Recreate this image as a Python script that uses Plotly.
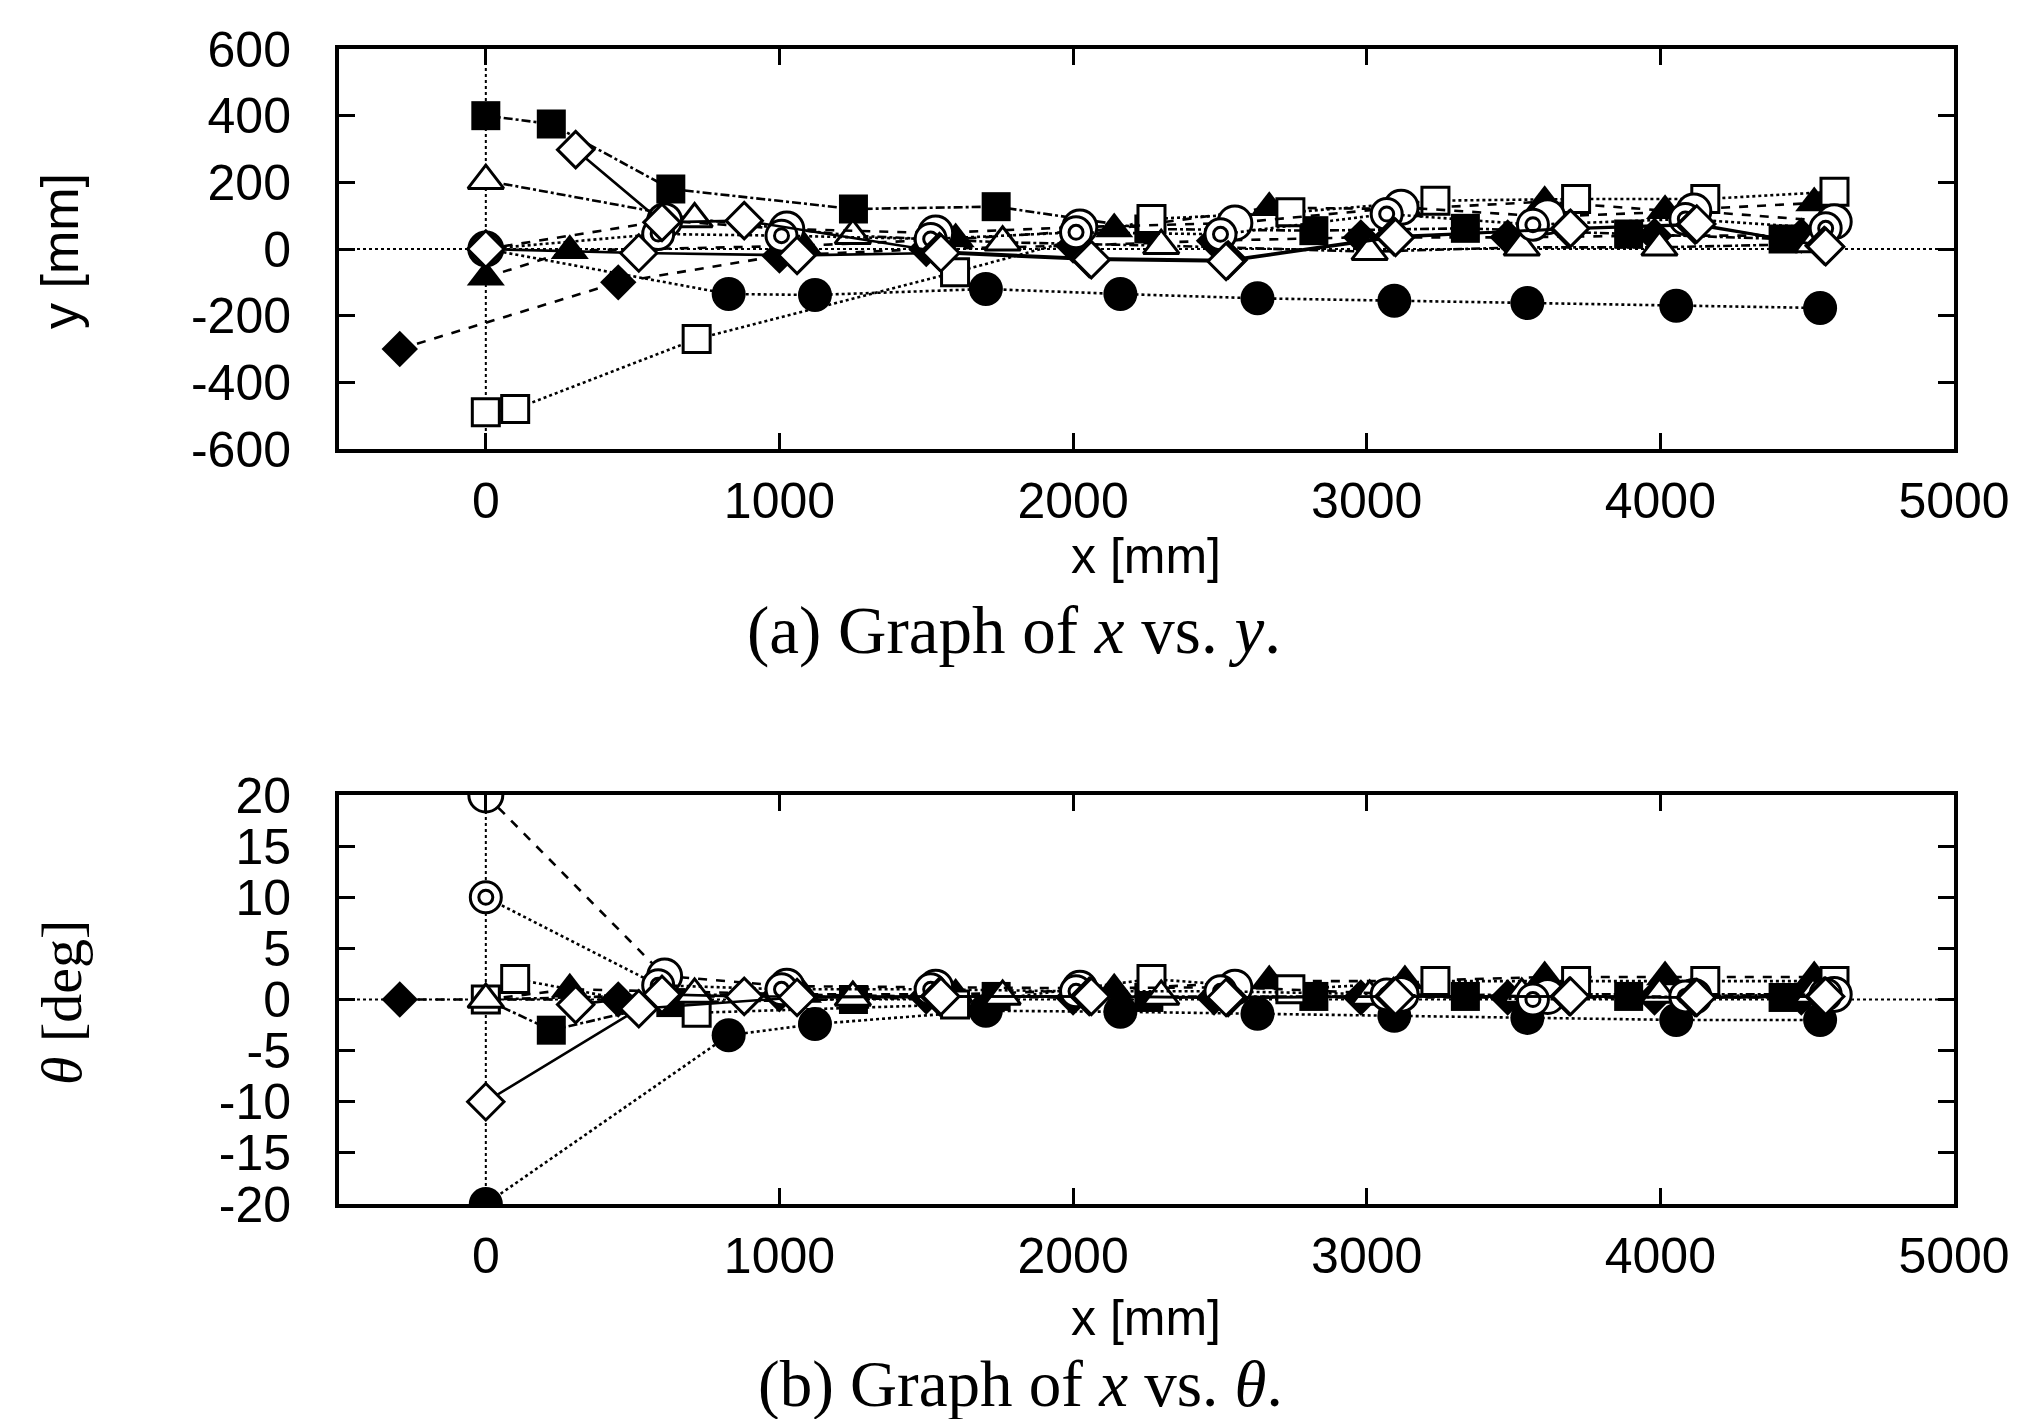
import plotly.graph_objects as go

# ---------------- data ----------------
x_tick_vals = [0, 1000, 2000, 3000, 4000, 5000]
x_tick_text = ["0", "1000", "2000", "3000", "4000", "5000"]
y_tick_vals = [-600, -400, -200, 0, 200, 400, 600]
y_tick_text = ["-600", "-400", "-200", "0", "200", "400", "600"]
t_tick_vals = [-20, -15, -10, -5, 0, 5, 10, 15, 20]
t_tick_text = ["-20", "-15", "-10", "-5", "0", "5", "10", "15", "20"]

# filled diamond
fdia_x = [-293, 451, 1000, 1500, 2000, 2480, 2980, 3480, 3980, 4480]
fdia_y = [-300, -100, -20, 0, 10, 25, 35, 35, 40, 40]
fdia_t = [0, 0, 0.5, 0.3, 0.2, 0.2, 0.2, 0.2, 0.2, 0.2]

# filled triangle
ftri_x = [0, 286, 1080, 1600, 2140, 2668, 3130, 3606, 4016, 4524]
ftri_y = [-85, -5, 10, 30, 60, 124, 120, 142, 115, 138]
ftri_t = [0, 1.0, 0.5, 0.5, 1.0, 1.8, 1.8, 2.2, 2.2, 2.2]

# filled circle
fcirc_x = [0, 827, 1121, 1703, 2161, 2628, 3094, 3547, 4054, 4544]
fcirc_y = [0, -135, -138, -120, -135, -148, -155, -162, -170, -177]
fcirc_t = [-20, -3.5, -2.4, -1.1, -1.2, -1.4, -1.6, -1.8, -2.0, -2.0]

# filled square
fsq_x = [0, 223, 630, 1252, 1738, 2258, 2820, 3336, 3892, 4418]
fsq_y = [400, 375, 180, 120, 127, 60, 55, 62, 45, 30]
fsq_t = [0, -3.0, -0.3, 0, 0.3, 0.2, 0.3, 0.3, 0.3, 0.2]

# open square
osq_x = [0, 100, 718, 1598, 2267, 2740, 3234, 3713, 4153, 4593]
osq_y = [-490, -480, -270, -70, 90, 110, 145, 150, 150, 172]
osq_t = [0, 2.0, -1.3, -0.5, 2.0, 1.0, 1.8, 1.8, 1.8, 1.8]

# open triangle
otri_x = [0, 711, 1250, 1760, 2300, 3010, 3528, 3997, 4520]
otri_y = [205, 90, 40, 20, 10, -8, 5, 5, 15]
otri_t = [0, 0.5, 0.2, 0.3, 0.3, 0.3, 0.5, 0.5, 0.5]

# open circle
ocirc_x = [0, 609, 1025, 1532, 2023, 2551, 3117, 3616, 4114, 4592]
ocirc_y = [0, 85, 60, 48, 66, 78, 125, 97, 114, 82]
ocirc_t = [20, 2.3, 1.3, 1.2, 1.1, 1.2, 0.5, 0.3, 0.3, 0.5]

# double circle
dcirc_x = [0, 587, 1007, 1515, 2010, 2502, 3068, 3566, 4085, 4563]
dcirc_y = [0, 45, 40, 30, 50, 44, 105, 73, 90, 62]
dcirc_t = [10, 1.4, 1.0, 1.0, 0.8, 0.8, 0.5, 0.0, 0.3, 0.5]

# open diamond (run B)
odiaB_x = [306, 600, 880, 1545, 2055, 2528, 3092, 3690, 4118, 4558]
odiaB_y = [298, 80, 85, -8, -28, -33, 38, 60, 72, 10]
odiaB_t = [-0.5, 0.5, 0.3, 0.3, 0.3, 0.2, 0.3, 0.3, 0.2, 0.3]

# open diamond (run A)
odiaA_x = [0, 521, 1060, 1550, 2062, 2521, 3098, 3694, 4124, 4563]
odiaA_y = [0, -12, -19, -12, -32, -37, 35, 62, 75, 7]
odiaA_t = [-10, -0.9, 0.2, 0.3, 0.3, 0.2, 0.3, 0.3, 0.2, 0.3]

# ---------------- styling ----------------
W, H = 2017, 1419
L, R, T, B = 331, 71, 41, 223
PH = H - T - B
top_dom = [(H - B - 441) / PH, 1.0]
bot_dom = [0.0, (H - B - 787) / PH]


def py(Ypx):
    return (H - B - Ypx) / PH


def px(Xpx):
    return (Xpx - L) / (W - L - R)


SANS = "Liberation Sans, Arial, Helvetica, sans-serif"
SERIF = "Liberation Serif, Times New Roman, serif"
BLACK = "black"

series = [
    # x, y, theta, symbol, fill, size, dash, inner ring
    (fdia_x, fdia_y, fdia_t, "diamond", BLACK, 28, "dash", False),
    (ftri_x, ftri_y, ftri_t, "triangle-up", BLACK, 33, "dash", False),
    (fcirc_x, fcirc_y, fcirc_t, "circle", BLACK, 34, "dot", False),
    (fsq_x, fsq_y, fsq_t, "square", BLACK, 29, "dashdot", False),
    (osq_x, osq_y, osq_t, "square", "white", 27, "dot", False),
    (otri_x, otri_y, otri_t, "triangle-up", "white", 31, "dashdot", False),
    (ocirc_x, ocirc_y, ocirc_t, "circle", "white", 34, "dash", False),
    (dcirc_x, dcirc_y, dcirc_t, "circle", "white", 31, "dot", True),
    (odiaB_x, odiaB_y, odiaB_t, "diamond", "white", 28, "solid", False),
    (odiaA_x, odiaA_y, odiaA_t, "diamond", "white", 28, "solid", False),
]

fig = go.Figure()

for (sx, sy, st, sym, fill, size, dash, ring) in series:
    for (yy, xa, ya) in ((sy, "x", "y"), (st, "x2", "y2")):
        fig.add_trace(go.Scatter(
            x=sx, y=yy, xaxis=xa, yaxis=ya, mode="lines+markers",
            line=dict(color=BLACK, width=2.6, dash=dash),
            marker=dict(symbol=sym, size=size, color=fill,
                        line=dict(color=BLACK, width=3 if fill == "white" else 0)),
            showlegend=False, hoverinfo="skip"))
        if ring:
            # inner ring of the double-circle symbol
            fig.add_trace(go.Scatter(
                x=sx, y=yy, xaxis=xa, yaxis=ya, mode="markers",
                marker=dict(symbol="circle", size=14, color="white",
                            line=dict(color=BLACK, width=3)),
                showlegend=False, hoverinfo="skip"))

axis_common = dict(
    showline=True, linewidth=4, linecolor=BLACK, mirror="allticks",
    ticks="inside", ticklen=16, tickwidth=3, tickcolor=BLACK,
    showgrid=False, zeroline=False,
    tickfont=dict(family=SANS, size=50, color=BLACK),
)

fig.update_layout(
    width=W, height=H,
    margin=dict(l=L, r=R, t=T, b=B),
    paper_bgcolor="white", plot_bgcolor="white",
    xaxis=dict(domain=[0, 1], anchor="y", range=[-500, 5000],
               tickmode="array", tickvals=x_tick_vals, ticktext=x_tick_text,
               ticklabelstandoff=5, **axis_common),
    yaxis=dict(domain=top_dom, anchor="x", range=[-600, 600],
               tickmode="array", tickvals=y_tick_vals, ticktext=y_tick_text,
               ticklabelstandoff=34, **axis_common),
    xaxis2=dict(domain=[0, 1], anchor="y2", range=[-500, 5000],
                tickmode="array", tickvals=x_tick_vals, ticktext=x_tick_text,
                ticklabelstandoff=5, **axis_common),
    yaxis2=dict(domain=bot_dom, anchor="x2", range=[-20, 20],
                tickmode="array", tickvals=t_tick_vals, ticktext=t_tick_text,
                ticklabelstandoff=34, **axis_common),
)

# dotted zero axes (gnuplot "set zeroaxis")
for xa, ya in (("x", "y"), ("x2", "y2")):
    fig.add_shape(type="line", xref=xa, yref=ya + " domain", x0=0, x1=0, y0=0, y1=1,
                  line=dict(color=BLACK, width=2, dash="dot"), layer="below")
    fig.add_shape(type="line", xref=xa + " domain", yref=ya, x0=0, x1=1, y0=0, y1=0,
                  line=dict(color=BLACK, width=2, dash="dot"), layer="below")

ann = [
    dict(text="x [mm]", x=px(1138), y=py(548), font=dict(family=SANS, size=50)),
    dict(text="x [mm]", x=px(1138), y=py(1310), font=dict(family=SANS, size=50)),
    dict(text="y [mm]", x=px(52), y=py(243), textangle=-90, font=dict(family=SANS, size=52)),
    dict(text="<i>θ</i> [deg]", x=px(53), y=py(995), textangle=-90, font=dict(family=SERIF, size=58)),
    dict(text="(a) Graph of <i>x</i> vs. <i>y</i>.", x=px(1006), y=py(623), font=dict(family=SERIF, size=67)),
    dict(text="(b) Graph of <i>x</i> vs. <i>θ</i>.", x=px(1012), y=py(1376), font=dict(family=SERIF, size=65)),
]
for a in ann:
    fig.add_annotation(xref="paper", yref="paper", showarrow=False,
                       xanchor="center", yanchor="middle",
                       font_color=BLACK, **a)

fig.write_html("out.html")
